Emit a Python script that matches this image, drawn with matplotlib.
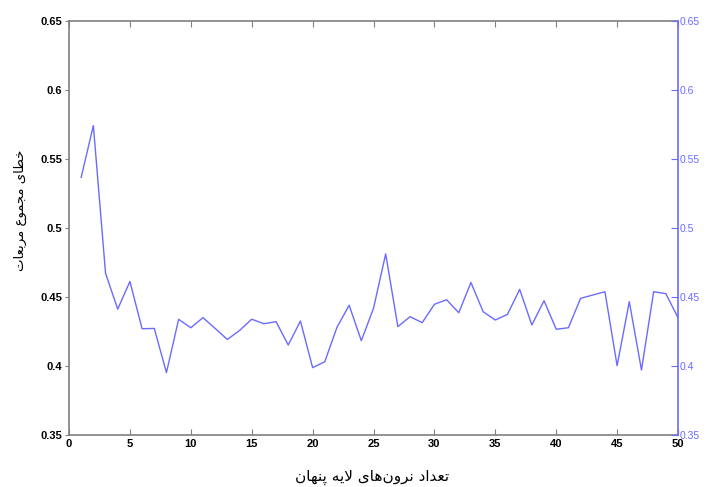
import matplotlib
matplotlib.use("Agg")
import matplotlib.pyplot as plt
import numpy as np

# ---------------- data ----------------
neurons = list(range(1, 51))
sse = [0.5365, 0.574, 0.467, 0.441, 0.461, 0.4268, 0.427, 0.395, 0.4336, 0.4275,
       0.4348, 0.427, 0.419, 0.4255, 0.4337, 0.4304, 0.4319, 0.415, 0.4324, 0.3986,
       0.4029, 0.4278, 0.4438, 0.4181, 0.4416, 0.481, 0.4283, 0.4355, 0.4312, 0.4445,
       0.4478, 0.4384, 0.4603, 0.4391, 0.4331, 0.4372, 0.4553, 0.4295, 0.4471, 0.4264,
       0.4275, 0.4488, 0.4512, 0.4536, 0.400, 0.4464, 0.3969, 0.4536, 0.4522, 0.4348]
x_ticks = [0, 5, 10, 15, 20, 25, 30, 35, 40, 45, 50]
y_ticks = [0.35, 0.4, 0.45, 0.5, 0.55, 0.6, 0.65]
y_tick_labels = ["0.35", "0.4", "0.45", "0.5", "0.55", "0.6", "0.65"]
xlabel_text = "تعداد نرون\u200cهای لایه پنهان"
ylabel_text = "خطای مجموع مربعات"

# ------------- minimal Persian shaping (presentation forms, visual order) -------------
FORMS = {  # iso, fin, ini, med
    '\u0627': ('\uFE8D', '\uFE8E', None, None),
    '\u0628': ('\uFE8F', '\uFE90', '\uFE91', '\uFE92'),
    '\u062A': ('\uFE95', '\uFE96', '\uFE97', '\uFE98'),
    '\u062C': ('\uFE9D', '\uFE9E', '\uFE9F', '\uFEA0'),
    '\u062E': ('\uFEA5', '\uFEA6', '\uFEA7', '\uFEA8'),
    '\u062F': ('\uFEA9', '\uFEAA', None, None),
    '\u0631': ('\uFEAD', '\uFEAE', None, None),
    '\u0637': ('\uFEC1', '\uFEC2', '\uFEC3', '\uFEC4'),
    '\u0639': ('\uFEC9', '\uFECA', '\uFECB', '\uFECC'),
    '\u0644': ('\uFEDD', '\uFEDE', '\uFEDF', '\uFEE0'),
    '\u0645': ('\uFEE1', '\uFEE2', '\uFEE3', '\uFEE4'),
    '\u0646': ('\uFEE5', '\uFEE6', '\uFEE7', '\uFEE8'),
    '\u0647': ('\uFEE9', '\uFEEA', '\uFEEB', '\uFEEC'),
    '\u0648': ('\uFEED', '\uFEEE', None, None),
    '\u06CC': ('\uFBFC', '\uFBFD', '\uFBFE', '\uFBFF'),
    '\u067E': ('\uFB56', '\uFB57', '\uFB58', '\uFB59'),
}
LAM_ALEF = ('\uFEFB', '\uFEFC')


def dual(c):
    return c in FORMS and FORMS[c][2] is not None


def shape(text):
    chars = list(text)
    units = []
    i = 0
    while i < len(chars):
        if chars[i] == '\u0644' and i + 1 < len(chars) and chars[i + 1] == '\u0627':
            units.append('LA')
            i += 2
        else:
            units.append(chars[i])
            i += 1
    out = []
    for k, u in enumerate(units):
        prev = units[k - 1] if k > 0 else None
        nxt = units[k + 1] if k + 1 < len(units) else None
        join_prev = prev is not None and prev != 'LA' and dual(prev)
        if u == 'LA':
            out.append(LAM_ALEF[1] if join_prev else LAM_ALEF[0])
            continue
        if u not in FORMS:
            if u != '\u200c':
                out.append(u)
            continue
        join_next = dual(u) and nxt is not None and (nxt == 'LA' or nxt in FORMS)
        iso, fin, ini, med = FORMS[u]
        if join_prev and join_next:
            out.append(med)
        elif join_prev:
            out.append(fin)
        elif join_next:
            out.append(ini)
        else:
            out.append(iso)
    return ''.join(reversed(out))


# ---------------- figure ----------------
plt.rcParams['font.family'] = ['Liberation Sans', 'DejaVu Sans']
fig = plt.figure(figsize=(7.07, 4.87), dpi=100)
ax = fig.add_axes([0.0976, 0.1074, 0.8614, 0.8501])
line_color = '#6b6bff'
gray = '#808080'

ax.plot(neurons, sse, color=line_color, linewidth=1.0)
ax.set_xlim(0, 50)
ax.set_ylim(0.35, 0.65)
ax.set_xticks(x_ticks)
ax.set_xticklabels([str(v) for v in x_ticks], fontsize=8, fontweight='bold')
ax.set_yticks(y_ticks)
ax.set_yticklabels(y_tick_labels, fontsize=8, fontweight='bold')
for s in ['left', 'top', 'bottom']:
    ax.spines[s].set_color(gray)
    ax.spines[s].set_linewidth(1.2)
ax.spines['right'].set_visible(False)
ax.tick_params(axis='x', direction='in', top=True, length=4, color=gray, pad=3)
ax.tick_params(axis='y', direction='out', length=3, color=gray, pad=2)

ax2 = ax.twinx()
ax2.set_ylim(0.35, 0.65)
ax2.set_yticks(y_ticks)
ax2.set_yticklabels(y_tick_labels, fontsize=7.5, color=line_color)
ax2.tick_params(axis='y', direction='in', length=5, color=line_color, pad=1)
ax2.spines['right'].set_color(line_color)
ax2.spines['right'].set_linewidth(1.2)
for s in ['left', 'top', 'bottom']:
    ax2.spines[s].set_visible(False)

fig.text(0.526, 0.02, shape(xlabel_text), fontsize=11, family=['DejaVu Sans'],
         ha='center', va='center')
fig.text(0.029, 0.569, shape(ylabel_text), fontsize=9.5, family=['DejaVu Sans'],
         ha='center', va='center', rotation=90)

fig.savefig('out.png', dpi=100)
